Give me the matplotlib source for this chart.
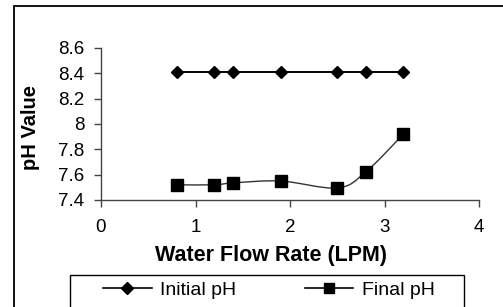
import matplotlib
matplotlib.use("Agg")
import matplotlib.pyplot as plt
from matplotlib.path import Path
from matplotlib.patches import PathPatch, Rectangle
from matplotlib.lines import Line2D
from matplotlib.ticker import FuncFormatter
import numpy as np

plt.rcParams['font.family'] = ['Liberation Sans', 'DejaVu Sans']

# data
flow_rate = [0.8, 1.2, 1.4, 1.9, 2.5, 2.8, 3.2]
initial_ph = [8.41, 8.41, 8.41, 8.41, 8.41, 8.41, 8.41]
final_ph = [7.52, 7.52, 7.535, 7.55, 7.495, 7.62, 7.92]
x_ticks = [0, 1, 2, 3, 4]
y_ticks = [7.4, 7.6, 7.8, 8.0, 8.2, 8.4, 8.6]


def smooth_path(xs, ys):
    # excel style smoothed line as cubic bezier segments
    pts = np.column_stack([xs, ys])
    n = len(pts)
    verts = [pts[0]]
    codes = [Path.MOVETO]
    for i in range(n - 1):
        p0 = pts[i - 1] if i > 0 else pts[i]
        p1 = pts[i]
        p2 = pts[i + 1]
        p3 = pts[i + 2] if i + 2 < n else pts[i + 1]
        c1 = p1 + (p2 - p0) / 6.0
        c2 = p2 - (p3 - p1) / 6.0
        verts += [c1, c2, p2]
        codes += [Path.CURVE4] * 3
    return Path(verts, codes)


fig = plt.figure(figsize=(5.03, 3.07), dpi=100)
ax = fig.add_axes([101 / 503, 1 - 200 / 307, 378 / 503, 152 / 307])

ax.plot(flow_rate, initial_ph, color='black', lw=1.4, marker='D', ms=6.5,
        clip_on=False, zorder=3)
ax.add_patch(PathPatch(smooth_path(flow_rate, final_ph), facecolor='none',
                       edgecolor='#333333', lw=1.0, zorder=2))
ax.plot(flow_rate, final_ph, ls='none', color='black', marker='s', ms=8,
        clip_on=False, zorder=3)

ax.set_xlim(0, 4)
ax.set_ylim(7.4, 8.6)
ax.set_xticks(x_ticks)
ax.set_yticks(y_ticks)
ax.yaxis.set_major_formatter(FuncFormatter(lambda v, p: '%g' % v))
ax.spines['top'].set_visible(False)
ax.spines['right'].set_visible(False)
for s in ['left', 'bottom']:
    ax.spines[s].set_color('#444444')
    ax.spines[s].set_linewidth(1.0)
ax.tick_params(axis='both', direction='out', length=5, width=1.0,
               color='#444444', labelsize=13.5)
ax.tick_params(axis='y', pad=7)
ax.tick_params(axis='x', pad=9)

ax.set_xlabel('Water Flow Rate (LPM)', fontsize=15.5, fontweight='bold')
ax.xaxis.set_label_coords(0.45, -0.295)
ax.set_ylabel('pH Value', fontsize=14.5, fontweight='bold')
ax.yaxis.set_label_coords(-0.162, 0.48)

# outer chart frame, cut by the image edges
fig.patches.append(Rectangle((14 / 503, -0.5), 2.0, 1.5 - 6 / 307,
                             transform=fig.transFigure, fill=False,
                             edgecolor='black', lw=1.3))

# legend box
fig.patches.append(Rectangle((70 / 503, -0.2), (464 - 70) / 503,
                             0.2 + 1 - 275 / 307, transform=fig.transFigure,
                             fill=False, edgecolor='black', lw=1.0))

handles = [Line2D([], [], color='black', lw=1.2, marker='D', ms=6.5),
           Line2D([], [], color='black', lw=1.2, marker='s', ms=7.5)]
fig.legend(handles, ['Initial pH', 'Final pH'], loc='center left',
           bbox_to_anchor=(103 / 503, 1 - 290 / 307), ncol=2, frameon=False,
           fontsize=14, borderpad=0, borderaxespad=0, handlelength=2.5,
           handletextpad=0.45, columnspacing=3.5)

fig.savefig('out.png', dpi=100)
